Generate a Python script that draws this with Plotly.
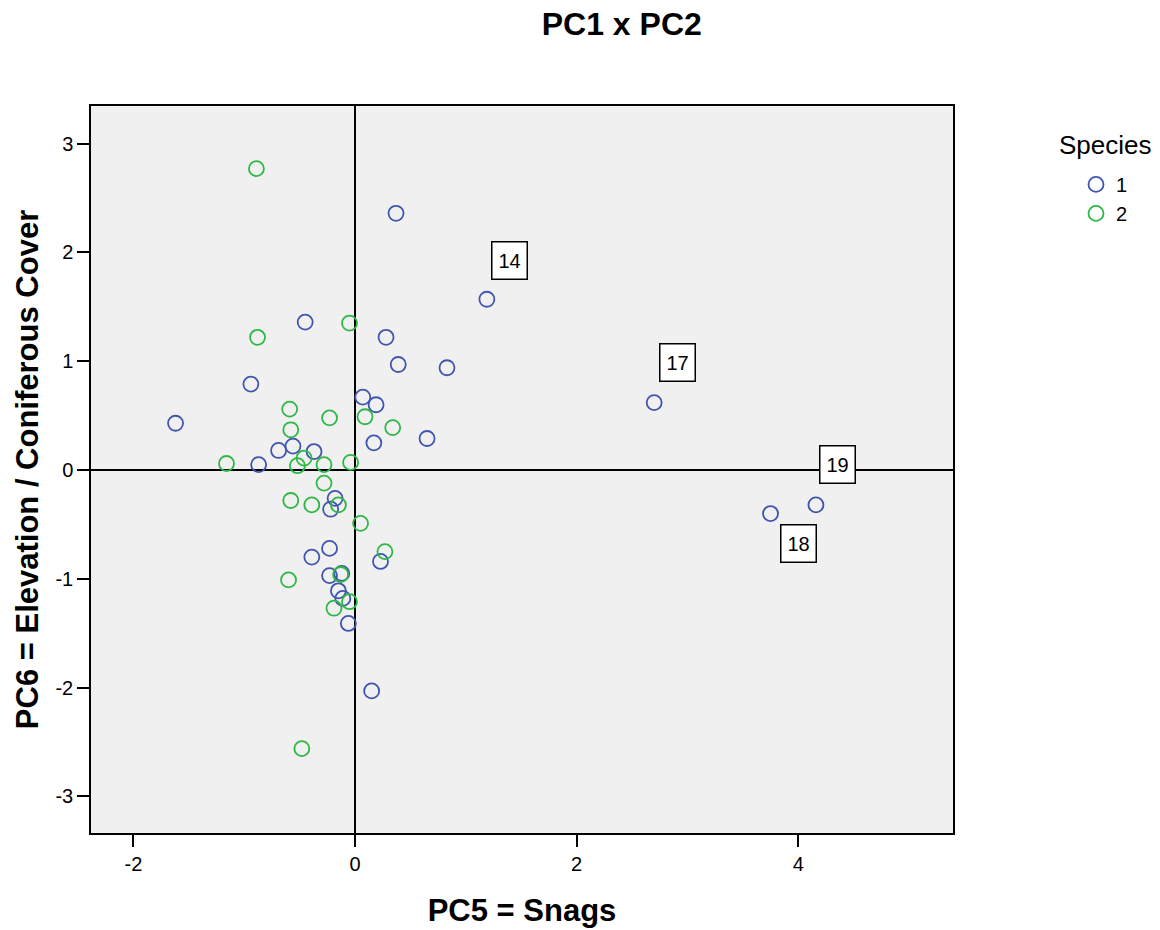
import plotly.graph_objects as go

# Species 1 (blue)
s1_x = [0.37, 1.19, -0.45, 0.28, 0.39, 0.83, -0.94, 0.07, 0.19, -1.62,
        0.65, 0.17, -0.69, -0.56, -0.37, -0.87, 2.70, 3.75, 4.16, -0.18,
        -0.22, -0.23, -0.39, 0.23, -0.23, -0.12, -0.15, -0.11, -0.06, 0.15]
s1_y = [2.36, 1.57, 1.36, 1.22, 0.97, 0.94, 0.79, 0.67, 0.60, 0.43,
        0.29, 0.25, 0.18, 0.22, 0.17, 0.05, 0.62, -0.40, -0.32, -0.26,
        -0.36, -0.72, -0.80, -0.84, -0.97, -0.95, -1.11, -1.18, -1.41, -2.03]
s1_id = ["", "14", "", "", "", "", "", "", "", "",
         "", "", "", "", "", "", "17", "18", "19", "",
         "", "", "", "", "", "", "", "", "", ""]

# Species 2 (green)
s2_x = [-0.89, -0.88, -0.05, -0.59, -0.23, -0.58, 0.09, 0.34, -1.16, -0.46,
        -0.52, -0.28, -0.04, -0.28, -0.58, -0.39, -0.15, 0.05, 0.27, -0.13,
        -0.60, -0.05, -0.19, -0.48]
s2_y = [2.77, 1.22, 1.35, 0.56, 0.48, 0.37, 0.49, 0.39, 0.06, 0.11,
        0.04, 0.05, 0.07, -0.12, -0.28, -0.32, -0.32, -0.49, -0.75, -0.96,
        -1.01, -1.21, -1.27, -2.56]

x_ticks = [-2, 0, 2, 4]
x_ticklabels = ["-2", "0", "2", "4"]
y_ticks = [-3, -2, -1, 0, 1, 2, 3]
y_ticklabels = ["-3", "-2", "-1", "0", "1", "2", "3"]

# label offsets in pixels (x, y) for labelled cases
label_offsets = {"14": (23, 39), "17": (23, 40), "18": (28, -30), "19": (22, 40)}

FONT = "Arial, Liberation Sans, sans-serif"
BLUE = "#3F55AF"
GREEN = "#2DB845"

fig = go.Figure()
fig.add_trace(go.Scatter(
    x=s1_x, y=s1_y, mode="markers", name="1",
    marker=dict(symbol="circle-open", size=15, color=BLUE, line=dict(width=1.8, color=BLUE)),
))
fig.add_trace(go.Scatter(
    x=s2_x, y=s2_y, mode="markers", name="2",
    marker=dict(symbol="circle-open", size=15, color=GREEN, line=dict(width=1.8, color=GREEN)),
))

for xv, yv, lab in zip(s1_x, s1_y, s1_id):
    if lab:
        dx, dy = label_offsets[lab]
        fig.add_annotation(
            x=xv, y=yv, text=lab, showarrow=False, xshift=dx, yshift=dy,
            font=dict(family=FONT, size=20, color="black"),
            bgcolor="white", bordercolor="black", borderwidth=1.5,
            borderpad=3, width=28, height=30,
        )

fig.add_annotation(
    text="Species", xref="paper", yref="paper", x=1.1206, y=0.9464,
    xanchor="left", yanchor="middle", showarrow=False,
    font=dict(family=FONT, size=26, color="black"),
)

fig.update_layout(
    width=1160, height=930,
    margin=dict(l=91, r=207, t=106, b=97, autoexpand=False),
    paper_bgcolor="white", plot_bgcolor="#F0F0F0",
    font=dict(family=FONT, color="black"),
    title=dict(text="<b>PC1 x PC2</b>", x=0.536, xref="container", xanchor="center",
               y=0.974, yref="container", yanchor="middle",
               font=dict(family=FONT, size=32, color="black")),
    legend=dict(
        font=dict(family=FONT, size=20),
        x=1.1427, y=0.919, xanchor="left", yanchor="top",
        bgcolor="rgba(0,0,0,0)", itemwidth=30, tracegroupgap=0,
    ),
    showlegend=True,
)

fig.update_xaxes(
    range=[-2.383, 5.397], tickvals=x_ticks, ticktext=x_ticklabels,
    showgrid=False, zeroline=True, zerolinecolor="black", zerolinewidth=2,
    showline=True, mirror=True, linecolor="black", linewidth=1.5,
    ticks="outside", ticklen=12, tickwidth=1.5, tickcolor="black",
    tickfont=dict(family=FONT, size=20), automargin=False,
    title=dict(text="<b>PC5 = Snags</b>", font=dict(family=FONT, size=31), standoff=26),
)
fig.update_yaxes(
    range=[-3.336, 3.346], tickvals=y_ticks, ticktext=y_ticklabels,
    showgrid=False, zeroline=True, zerolinecolor="black", zerolinewidth=2,
    showline=True, mirror=True, linecolor="black", linewidth=1.5,
    ticks="outside", ticklen=12, tickwidth=1.5, tickcolor="black",
    tickfont=dict(family=FONT, size=20), automargin=False,
    title=dict(text="<b>PC6 = Elevation / Coniferous Cover</b>", font=dict(family=FONT, size=31), standoff=8),
)

fig.write_html("out.html")
